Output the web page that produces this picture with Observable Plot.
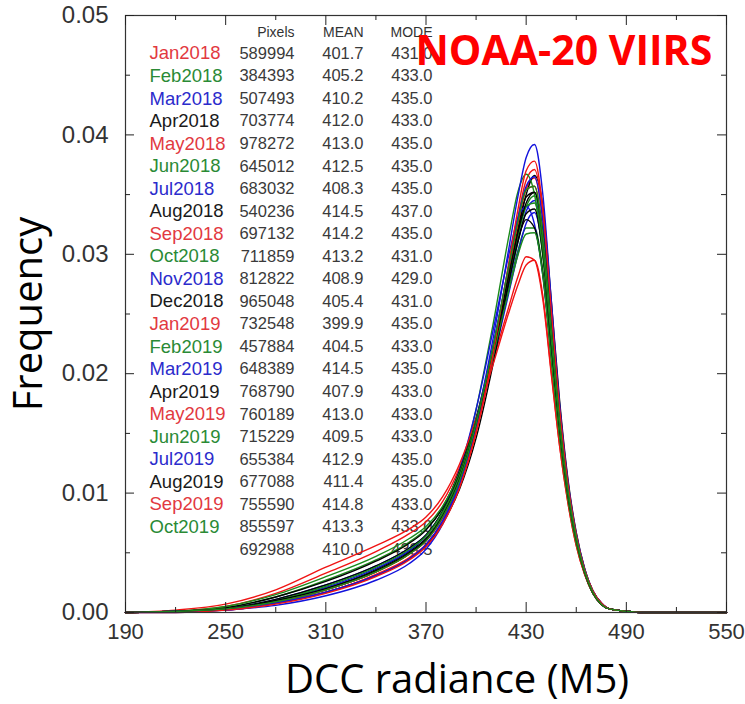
<!DOCTYPE html>
<html><head><meta charset="utf-8">
<script src="https://cdn.jsdelivr.net/npm/d3@7"></script>
<script src="https://cdn.jsdelivr.net/npm/@observablehq/plot@0.6"></script>
<style>html,body{margin:0;padding:0;background:#fff;}</style>
</head><body><div id="chart"></div>
<script>
// ---------- data ----------
const radiance = [190,220,250,280,310,340,360,370,380,390,400,410,420,425,430,435,440,445,450,455,460,465,470,475,480,490,500,550];

const months = ["Jan2018","Feb2018","Mar2018","Apr2018","May2018","Jun2018","Jul2018","Aug2018","Sep2018","Oct2018","Nov2018","Dec2018",
                "Jan2019","Feb2019","Mar2019","Apr2019","May2019","Jun2019","Jul2019","Aug2019","Sep2019","Oct2019"];
const monthGroup = ["red","green","blue","black","red","green","blue","black","red","green","blue","black",
                    "red","green","blue","black","red","green","blue","black","red","green"];
const pixels = ["589994","384393","507493","703774","978272","645012","683032","540236","697132","711859","812822","965048",
                "732548","457884","648389","768790","760189","715229","655384","677088","755590","855597","692988"];
const means = ["401.7","405.2","410.2","412.0","413.0","412.5","408.3","414.5","414.2","413.2","408.9","405.4",
               "399.9","404.5","414.5","407.9","413.0","409.5","412.9","411.4","414.8","413.3","410.0"];
const modes = ["431.0","433.0","435.0","433.0","435.0","435.0","435.0","437.0","435.0","431.0","429.0","431.0",
               "435.0","433.0","435.0","433.0","433.0","433.0","435.0","435.0","433.0","433.0","433.5"];
const tableHeaders = ["Pixels","MEAN","MODE"];

const freqJan2018 = [0,0.0001,0.0005,0.0016,0.0033,0.0051,0.0066,0.0076,0.0093,0.0121,0.0162,0.0210,0.0258,0.0281,0.0298,0.0295,0.0262,0.0200,0.0140,0.0092,0.0056,0.0032,0.0016,0.0007,0.0003,0.0001,0,0];
const freqFeb2018 = [0,0.0001,0.0004,0.0013,0.0027,0.0044,0.0059,0.0070,0.0087,0.0116,0.0160,0.0215,0.0275,0.0303,0.0322,0.0322,0.0285,0.0215,0.0148,0.0096,0.0059,0.0033,0.0016,0.0007,0.0003,0.0001,0,0];
const freqMar2018 = [0,0.0001,0.0003,0.0009,0.0019,0.0034,0.0049,0.0060,0.0080,0.0110,0.0155,0.0213,0.0278,0.0310,0.0336,0.0345,0.0310,0.0235,0.0160,0.0102,0.0062,0.0035,0.0017,0.0007,0.0003,0.0001,0,0];
const freqApr2018 = [0,0.0001,0.0003,0.0010,0.0020,0.0036,0.0051,0.0062,0.0082,0.0113,0.0160,0.0222,0.0290,0.0322,0.0348,0.0352,0.0312,0.0236,0.0160,0.0102,0.0062,0.0034,0.0017,0.0007,0.0003,0.0001,0,0];
const freqMay2018 = [0,0.0001,0.0003,0.0009,0.0019,0.0034,0.0049,0.0060,0.0079,0.0108,0.0153,0.0215,0.0288,0.0325,0.0355,0.0364,0.0328,0.0248,0.0168,0.0106,0.0064,0.0036,0.0018,0.0008,0.0003,0.0001,0,0];
const freqJun2018 = [0,0.0001,0.0003,0.0010,0.0020,0.0035,0.0050,0.0061,0.0081,0.0111,0.0157,0.0217,0.0283,0.0315,0.0340,0.0349,0.0315,0.0238,0.0162,0.0103,0.0063,0.0035,0.0017,0.0007,0.0003,0.0001,0,0];
const freqJul2018 = [0,0.0001,0.0003,0.0011,0.0023,0.0039,0.0054,0.0065,0.0084,0.0113,0.0155,0.0210,0.0270,0.0300,0.0326,0.0335,0.0302,0.0230,0.0157,0.0100,0.0061,0.0034,0.0017,0.0007,0.0003,0.0001,0,0];
const freqAug2018 = [0,0.0001,0.0003,0.0008,0.0017,0.0031,0.0045,0.0056,0.0075,0.0103,0.0146,0.0207,0.0280,0.0318,0.0350,0.0366,0.0340,0.0262,0.0178,0.0112,0.0067,0.0037,0.0018,0.0008,0.0003,0.0001,0,0];
const freqSep2018 = [0,0.0001,0.0002,0.0008,0.0017,0.0032,0.0046,0.0057,0.0076,0.0105,0.0150,0.0213,0.0290,0.0330,0.0362,0.0371,0.0335,0.0253,0.0171,0.0108,0.0065,0.0036,0.0018,0.0008,0.0003,0.0001,0,0];
const freqOct2018 = [0,0.0001,0.0003,0.0009,0.0019,0.0034,0.0049,0.0061,0.0082,0.0116,0.0170,0.0240,0.0318,0.0352,0.0367,0.0350,0.0298,0.0225,0.0153,0.0098,0.0060,0.0033,0.0016,0.0007,0.0003,0.0001,0,0];
const freqNov2018 = [0,0.0001,0.0003,0.0010,0.0021,0.0037,0.0052,0.0064,0.0085,0.0119,0.0170,0.0235,0.0302,0.0330,0.0340,0.0325,0.0282,0.0215,0.0148,0.0096,0.0059,0.0033,0.0016,0.0007,0.0003,0.0001,0,0];
const freqDec2018 = [0,0.0001,0.0004,0.0013,0.0026,0.0043,0.0058,0.0069,0.0088,0.0118,0.0163,0.0220,0.0283,0.0312,0.0329,0.0322,0.0284,0.0215,0.0148,0.0096,0.0059,0.0033,0.0016,0.0007,0.0003,0.0001,0,0];
const freqJan2019 = [0,0.0002,0.0007,0.0019,0.0038,0.0056,0.0070,0.0080,0.0097,0.0124,0.0162,0.0207,0.0253,0.0274,0.0291,0.0295,0.0265,0.0202,0.0140,0.0092,0.0056,0.0032,0.0016,0.0007,0.0003,0.0001,0,0];
const freqFeb2019 = [0,0.0001,0.0005,0.0015,0.0030,0.0047,0.0062,0.0072,0.0089,0.0117,0.0160,0.0214,0.0272,0.0299,0.0317,0.0318,0.0282,0.0213,0.0147,0.0095,0.0058,0.0033,0.0016,0.0007,0.0003,0.0001,0,0];
const freqMar2019 = [0,0.0000,0.0002,0.0006,0.0014,0.0027,0.0041,0.0053,0.0074,0.0107,0.0160,0.0228,0.0308,0.0348,0.0381,0.0392,0.0350,0.0262,0.0175,0.0110,0.0066,0.0037,0.0018,0.0008,0.0003,0.0001,0,0];
const freqApr2019 = [0,0.0001,0.0003,0.0011,0.0023,0.0039,0.0054,0.0065,0.0085,0.0115,0.0160,0.0218,0.0280,0.0310,0.0334,0.0338,0.0300,0.0227,0.0155,0.0099,0.0061,0.0034,0.0017,0.0007,0.0003,0.0001,0,0];
const freqMay2019 = [0,0.0001,0.0003,0.0009,0.0019,0.0034,0.0049,0.0060,0.0080,0.0110,0.0157,0.0220,0.0292,0.0326,0.0354,0.0357,0.0316,0.0238,0.0161,0.0103,0.0063,0.0035,0.0017,0.0007,0.0003,0.0001,0,0];
const freqJun2019 = [0,0.0001,0.0003,0.0010,0.0022,0.0038,0.0053,0.0064,0.0084,0.0114,0.0160,0.0220,0.0285,0.0316,0.0340,0.0343,0.0304,0.0230,0.0157,0.0100,0.0061,0.0034,0.0017,0.0007,0.0003,0.0001,0,0];
const freqJul2019 = [0,0.0001,0.0002,0.0008,0.0017,0.0031,0.0045,0.0057,0.0077,0.0108,0.0156,0.0220,0.0294,0.0330,0.0357,0.0365,0.0328,0.0247,0.0166,0.0105,0.0064,0.0036,0.0018,0.0008,0.0003,0.0001,0,0];
const freqAug2019 = [0,0.0001,0.0003,0.0010,0.0020,0.0035,0.0050,0.0061,0.0081,0.0111,0.0158,0.0218,0.0285,0.0318,0.0343,0.0352,0.0318,0.0240,0.0163,0.0104,0.0063,0.0035,0.0017,0.0007,0.0003,0.0001,0,0];
const freqSep2019 = [0,0.0000,0.0002,0.0007,0.0016,0.0030,0.0044,0.0055,0.0074,0.0104,0.0151,0.0216,0.0296,0.0337,0.0370,0.0378,0.0338,0.0254,0.0171,0.0108,0.0065,0.0036,0.0018,0.0008,0.0003,0.0001,0,0];
const freqOct2019 = [0,0.0001,0.0003,0.0009,0.0019,0.0034,0.0049,0.0060,0.0080,0.0110,0.0158,0.0221,0.0293,0.0327,0.0354,0.0357,0.0316,0.0238,0.0161,0.0103,0.0063,0.0035,0.0017,0.0007,0.0003,0.0001,0,0];

const frequencies = [freqJan2018,freqFeb2018,freqMar2018,freqApr2018,freqMay2018,freqJun2018,freqJul2018,freqAug2018,freqSep2018,freqOct2018,freqNov2018,freqDec2018,
                     freqJan2019,freqFeb2019,freqMar2019,freqApr2019,freqMay2019,freqJun2019,freqJul2019,freqAug2019,freqSep2019,freqOct2019];

const xMajorTicks = [190,250,310,370,430,490,550];
const xMinorTicks = [220,280,340,400,460,520];
const yMajorTicks = [0,0.01,0.02,0.03,0.04,0.05];
const yMinorTicks = [0.005,0.015,0.025,0.035,0.045];

// ---------- styles ----------
const lineColor = {red:"#f01414", green:"#1b8a1b", blue:"#1212dc", black:"#000000"};
const labelColor = {red:"#e2393f", green:"#2a8a35", blue:"#2b2bcc", black:"#1a1a1a"};

const W = 745, H = 704;
const mL = 125, mR = 19, mT = 15, mB = 92;
const frameW = W - mL - mR, frameH = H - mT - mB;

const rows = months.flatMap((m, i) => radiance.map((r, j) => ({month: m, radiance: r, freq: frequencies[i][j], color: lineColor[monthGroup[i]]})));

// table text marks
const tableFont = "Liberation Sans, Arial, sans-serif";
const rowDy = i => 38 + i * 22.55;
const colDx = {name: 24, pixels: 169, mean: 238, mode: 307};
const tableMarks = [];
tableHeaders.forEach((h, k) => {
  tableMarks.push(Plot.text([h], {text: d => d, frameAnchor: "top-left", dx: [colDx.pixels, colDx.mean, colDx.mode][k], dy: 17,
    textAnchor: "end", lineAnchor: "middle", fontSize: 14, fill: "#333", fontFamily: tableFont}));
});
pixels.forEach((p, i) => {
  if (i < months.length) {
    tableMarks.push(Plot.text([months[i]], {text: d => d, frameAnchor: "top-left", dx: colDx.name, dy: rowDy(i),
      textAnchor: "start", lineAnchor: "middle", fontSize: 18.5, fill: labelColor[monthGroup[i]], fontFamily: tableFont}));
  }
  [[p, colDx.pixels], [means[i], colDx.mean], [modes[i], colDx.mode]].forEach(([t, dx]) => {
    tableMarks.push(Plot.text([t], {text: d => d, frameAnchor: "top-left", dx, dy: rowDy(i),
      textAnchor: "end", lineAnchor: "middle", fontSize: 16.5, fill: "#3a3a3a", fontFamily: tableFont}));
  });
});

const chart = Plot.plot({
  width: W, height: H,
  marginLeft: mL, marginRight: mR, marginTop: mT, marginBottom: mB,
  style: {fontFamily: "Liberation Sans, Arial, sans-serif", background: "white", overflow: "visible"},
  x: {domain: [190, 550], label: null},
  y: {domain: [0, 0.05], label: null},
  color: {type: "identity"},
  marks: [
    ...tableMarks,
    Plot.line(rows, {x: "radiance", y: "freq", z: "month", stroke: "color", strokeWidth: 1.4, curve: "monotone-x"}),
    Plot.frame({stroke: "#333", strokeWidth: 1.2}),
    // inward ticks
    Plot.tickX(xMajorTicks, {x: d => d, insetTop: frameH - 10, stroke: "#222"}),
    Plot.tickX(xMinorTicks, {x: d => d, insetTop: frameH - 5, stroke: "#222"}),
    Plot.tickX(xMajorTicks, {x: d => d, insetBottom: frameH - 10, stroke: "#222"}),
    Plot.tickX(xMinorTicks, {x: d => d, insetBottom: frameH - 5, stroke: "#222"}),
    Plot.tickY(yMajorTicks, {y: d => d, insetRight: frameW - 9, stroke: "#222"}),
    Plot.tickY(yMinorTicks, {y: d => d, insetRight: frameW - 5, stroke: "#222"}),
    Plot.tickY(yMajorTicks, {y: d => d, insetLeft: frameW - 9, stroke: "#222"}),
    Plot.tickY(yMinorTicks, {y: d => d, insetLeft: frameW - 5, stroke: "#222"}),
    Plot.axisX({ticks: xMajorTicks, tickSize: 0, tickPadding: 11, fontSize: 22, label: null, tickFormat: d => String(d), color: "#333"}),
    Plot.axisY({ticks: yMajorTicks, tickSize: 0, tickPadding: 17, fontSize: 24, label: null, tickFormat: d3.format(".2f"), color: "#333"}),
    Plot.text(["Frequency"], {text: d => d, frameAnchor: "left", dx: -96, rotate: -90, textAnchor: "middle", fontSize: 40, fontFamily: "Open Sans", fill: "#000", lineAnchor: "middle"}),
    Plot.text(["DCC radiance (M5)"], {text: d => d, frameAnchor: "bottom", dx: 31, dy: 68, textAnchor: "middle", fontSize: 40, fontFamily: "Open Sans", fill: "#000", lineAnchor: "middle"}),
    Plot.text(["NOAA-20 VIIRS"], {text: d => d, frameAnchor: "top-left", dx: 290, dy: 36, textAnchor: "start", lineAnchor: "middle", fontSize: 41, fontWeight: "bold", fontFamily: "Open Sans", fill: "#ff0000"})
  ]
});
document.getElementById("chart").appendChild(chart);
</script>
</body></html>
